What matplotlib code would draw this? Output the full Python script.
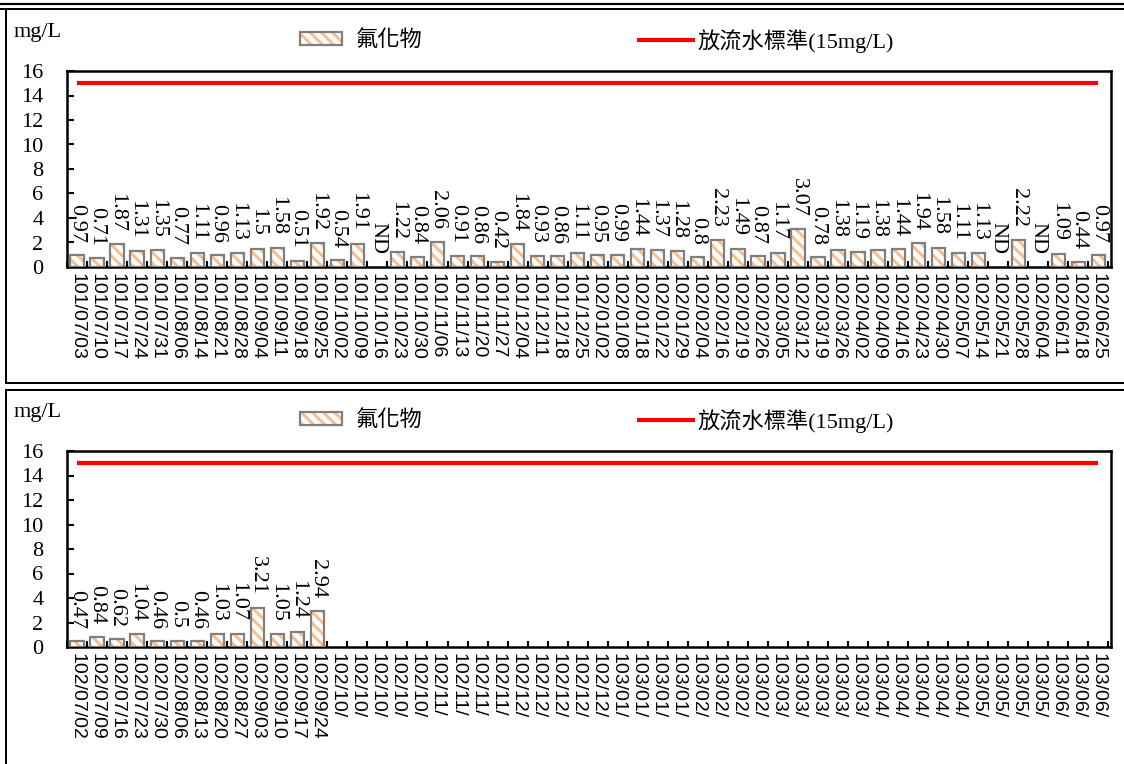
import numpy as np
import matplotlib.pyplot as plt
from matplotlib.lines import Line2D
from matplotlib.legend_handler import HandlerTuple

plt.rcParams['hatch.linewidth'] = 2.2

# ---- data ----
dates_101 = ['101/07/03', '101/07/10', '101/07/17', '101/07/24', '101/07/31',
             '101/08/06', '101/08/14', '101/08/21', '101/08/28',
             '101/09/04', '101/09/11', '101/09/18', '101/09/25',
             '101/10/02', '101/10/09', '101/10/16', '101/10/23', '101/10/30',
             '101/11/06', '101/11/13', '101/11/20', '101/11/27',
             '101/12/04', '101/12/11', '101/12/18', '101/12/25',
             '102/01/02', '102/01/08', '102/01/18', '102/01/22', '102/01/29',
             '102/02/04', '102/02/16', '102/02/19', '102/02/26',
             '102/03/05', '102/03/12', '102/03/19', '102/03/26',
             '102/04/02', '102/04/09', '102/04/16', '102/04/23', '102/04/30',
             '102/05/07', '102/05/14', '102/05/21', '102/05/28',
             '102/06/04', '102/06/11', '102/06/18', '102/06/25']
# None = ND (not detected)
fluoride_101 = [0.97, 0.71, 1.87, 1.31, 1.35, 0.77, 1.11, 0.96, 1.13, 1.5,
                1.58, 0.51, 1.92, 0.54, 1.91, None, 1.22, 0.84, 2.06, 0.91,
                0.86, 0.42, 1.84, 0.93, 0.86, 1.11, 0.95, 0.99, 1.44, 1.37,
                1.28, 0.8, 2.23, 1.49, 0.87, 1.17, 3.07, 0.78, 1.38, 1.19,
                1.38, 1.44, 1.94, 1.58, 1.11, 1.13, None, 2.22, None, 1.09,
                0.44, 0.97]

dates_102 = ['102/07/02', '102/07/09', '102/07/16', '102/07/23', '102/07/30',
             '102/08/06', '102/08/13', '102/08/20', '102/08/27',
             '102/09/03', '102/09/10', '102/09/17', '102/09/24',
             '102/10/', '102/10/', '102/10/', '102/10/', '102/10/',
             '102/11/', '102/11/', '102/11/', '102/11/',
             '102/12/', '102/12/', '102/12/', '102/12/', '102/12/',
             '103/01/', '103/01/', '103/01/', '103/01/',
             '103/02/', '103/02/', '103/02/', '103/02/',
             '103/03/', '103/03/', '103/03/', '103/03/', '103/03/',
             '103/04/', '103/04/', '103/04/', '103/04/', '103/04/',
             '103/05/', '103/05/', '103/05/', '103/05/',
             '103/06/', '103/06/', '103/06/']
fluoride_102 = [0.47, 0.84, 0.62, 1.04, 0.46, 0.5, 0.46, 1.03, 1.07, 3.21,
                1.05, 1.24, 2.94]

standard = 15
series_name = '氟化物'
standard_name = '放流水標準(15mg/L)'
unit = 'mg/L'

W, H = 1124, 764
fig = plt.figure(figsize=(W / 100, H / 100), dpi=100)

serif = ['Liberation Serif', 'Noto Sans CJK TC']
hatch_col = '#F9BF8F'
edge_col = '#7F7F7F'


def fx(px):
    return px / W


def fy(py):
    return 1 - py / H


def draw_panel(top, dates, values):
    ax = fig.add_axes([fx(67), fy(top + 196), fx(1111) - fx(67), 196 / H])
    x = np.arange(len(dates))
    # bars (only measured ones)
    xs = [i for i, v in enumerate(values) if v is not None]
    hs = [v for v in values if v is not None]
    b1 = ax.bar(xs, hs, width=0.66, color='white', edgecolor=hatch_col,
                hatch='\\\\\\', linewidth=0, zorder=2)
    b2 = ax.bar(xs, hs, width=0.66, color='none', edgecolor=edge_col,
                linewidth=1.6, zorder=3)
    ln, = ax.plot(x, [standard] * len(x), color='#FF0000', lw=3,
                  solid_capstyle='butt', zorder=4)
    # value labels
    for i, v in enumerate(values):
        txt = 'ND' if v is None else f'{v:g}'
        ax.annotate(txt, (i, 0 if v is None else v), xytext=(0, 9),
                    textcoords='offset points', rotation=270,
                    ha='center', va='bottom', fontsize=16,
                    family='Liberation Serif', zorder=5)
    ax.set_xlim(-0.41, 51.63)
    ax.set_ylim(0, 16)
    ax.set_yticks(np.arange(0, 17, 2))
    ax.set_xticks(x)
    ax.set_xticklabels(dates, rotation=270, family='Liberation Sans',
                       fontsize=14)
    ax.set_xticks(np.arange(len(dates) + 1) - 0.5, minor=True)
    ax.tick_params(axis='x', which='major', length=0, pad=4)
    ax.tick_params(axis='x', which='minor', direction='in', length=4,
                   width=1.5)
    ax.tick_params(axis='y', direction='in', length=5, width=1.5, pad=17,
                   labelsize=16)
    for lab in ax.get_yticklabels():
        lab.set_family('Liberation Serif')
    for s in ax.spines.values():
        s.set_linewidth(1.8)

    # legend entries
    prop = {'family': serif, 'size': 16}
    leg1 = ax.legend([(b1[0], b2[0])], [series_name],
                     handler_map={tuple: HandlerTuple(ndivide=1, pad=0)},
                     loc='center left',
                     bbox_to_anchor=(fx(300), fy(top - 30)),
                     bbox_transform=fig.transFigure, frameon=False,
                     borderpad=0, borderaxespad=0, handlelength=1.9,
                     handleheight=0.5, handletextpad=0.6, prop=prop)
    ax.add_artist(leg1)
    ax.legend([ln], [standard_name], loc='center left',
              bbox_to_anchor=(fx(637), fy(top - 30)),
              bbox_transform=fig.transFigure, frameon=False,
              borderpad=0, borderaxespad=0, handlelength=2.6,
              handletextpad=0.1, prop=prop)
    fig.text(fx(14), fy(top - 38), unit, fontsize=16,
             family='Liberation Serif', va='center', ha='left')
    return ax


draw_panel(71, dates_101, fluoride_101)
draw_panel(451, dates_102, fluoride_102)

# page frame lines
frame = [([0, W], [3.5, 3.5], 2.2), ([0, W], [8.5, 8.5], 2.0),
         ([6, 6], [8.5, 383.5], 2.0), ([6, W], [383.5, 383.5], 2.0),
         ([6, W], [389.5, 389.5], 2.0), ([6, 6], [389.5, H], 2.0)]
for xx, yy, lw in frame:
    fig.add_artist(Line2D([fx(v) for v in xx], [fy(v) for v in yy],
                          color='black', lw=lw * 0.72,
                          transform=fig.transFigure))

fig.savefig('out.png', dpi=100)
